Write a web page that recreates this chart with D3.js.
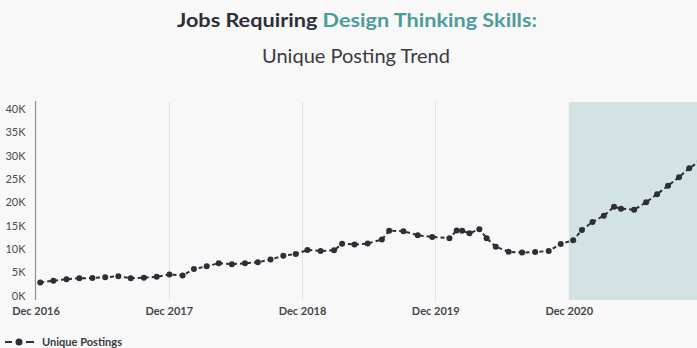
<!DOCTYPE html>
<html>
<head>
<meta charset="utf-8">
<script src="https://cdn.jsdelivr.net/npm/d3@7"></script>
<style>
  html, body { margin: 0; padding: 0; background: #f8f8f8; }
  svg { display: block; }
  text { font-family: Lato, "Open Sans", sans-serif; }
</style>
</head>
<body>
<svg id="chart" width="697" height="348"></svg>
<script>
// Unique job postings requiring design thinking skills
const postingDates = [
  "2016-12-14","2017-01-19","2017-02-24","2017-03-31","2017-05-06","2017-06-10",
  "2017-07-16","2017-08-19","2017-09-24","2017-10-29","2017-12-03","2018-01-08",
  "2018-02-08","2018-03-15","2018-04-17","2018-05-23","2018-06-28","2018-08-02",
  "2018-09-06","2018-10-11","2018-11-14","2018-12-16","2019-01-21","2019-02-27",
  "2019-03-21","2019-04-24","2019-05-30","2019-07-08","2019-07-28","2019-09-05",
  "2019-10-14","2019-11-23","2020-01-09","2020-01-29","2020-02-13","2020-03-04",
  "2020-03-31","2020-04-20","2020-05-15","2020-06-19","2020-07-26","2020-08-31",
  "2020-10-07","2020-11-09","2020-12-13","2021-01-06","2021-02-04","2021-03-07",
  "2021-04-04","2021-04-23","2021-05-29","2021-07-01","2021-07-31","2021-08-30",
  "2021-09-29","2021-10-27","2021-11-25"
];
const uniquePostings = [
  2800, 3180, 3480, 3690, 3750, 3900,
  4140, 3690, 3820, 4010, 4530, 4290,
  5680, 6260, 6930, 6710, 6910, 7120,
  7720, 8520, 8900, 9760, 9550, 9700,
  11090, 10940, 11150, 12010, 13900, 13790,
  12930, 12550, 12290, 13940, 13880, 13340,
  14200, 12290, 10470, 9370, 9220, 9330,
  9550, 11050, 11840, 14050, 15770, 17100,
  19050, 18620, 18400, 19990, 21730, 23530,
  25380, 27310, 28800
];
const yTicks = [0, 5000, 10000, 15000, 20000, 25000, 30000, 35000, 40000];
const xTickDates = ["2016-12-01","2017-12-01","2018-12-01","2019-12-01","2020-12-01"];
const forecastStart = "2020-12-01";
const forecastEnd = "2021-12-01";
const seriesName = "Unique Postings";

const parse = d3.utcParse("%Y-%m-%d");
const points = postingDates.map((d, i) => ({ date: parse(d), value: uniquePostings[i] }));

const svg = d3.select("#chart");
const plotTop = 102, plotBottom = 300;

const x = d3.scaleUtc()
  .domain([parse("2016-12-01"), parse("2021-12-01")])
  .range([35.5, 702]);
const y = d3.scaleLinear().domain([0, 40000]).range([295.5, 109]);

// Title
const title = svg.append("text")
  .attr("x", 357).attr("y", 26.5)
  .attr("text-anchor", "middle")
  .attr("textLength", 360)
  .attr("lengthAdjust", "spacingAndGlyphs")
  .style("font-size", "18.5px").style("font-weight", 700);
title.append("tspan").attr("fill", "#2f2f39").text("Jobs Requiring ");
title.append("tspan").attr("fill", "#4b9c9b").text("Design Thinking Skills:");

svg.append("text")
  .attr("x", 356).attr("y", 63.3)
  .attr("text-anchor", "middle")
  .attr("textLength", 188)
  .attr("lengthAdjust", "spacingAndGlyphs")
  .attr("fill", "#3a3a42")
  .style("font-size", "18.5px")
  .text("Unique Posting Trend");

// Highlighted recent period
svg.append("rect")
  .attr("x", x(parse(forecastStart)))
  .attr("y", plotTop)
  .attr("width", x(parse(forecastEnd)) - x(parse(forecastStart)))
  .attr("height", plotBottom - plotTop)
  .attr("fill", "#d3e2e2");

// Vertical year gridlines
svg.append("g")
  .selectAll("line")
  .data(xTickDates.slice(1, 4).map(parse))
  .join("line")
  .attr("x1", d => Math.round(x(d)) + 0.5)
  .attr("x2", d => Math.round(x(d)) + 0.5)
  .attr("y1", plotTop).attr("y2", plotBottom)
  .attr("stroke", "#e1e1e1").attr("stroke-width", 1);

// Y axis
const yAxis = svg.append("g")
  .attr("transform", "translate(35.5,0)")
  .call(d3.axisLeft(y).tickValues(yTicks).tickSize(0).tickPadding(10)
    .tickFormat(d => (d / 1000) + "K"));
yAxis.select(".domain").remove();
yAxis.selectAll("text")
  .attr("fill", "#4a4a52")
  .style("font-size", "11px")
  .style("font-family", "Lato, sans-serif");
svg.append("line")
  .attr("x1", 35.5).attr("x2", 35.5)
  .attr("y1", plotTop - 1).attr("y2", plotBottom)
  .attr("stroke", "#8e8e8e").attr("stroke-width", 1.2);

// X axis labels
const xAxis = svg.append("g")
  .attr("transform", `translate(0,${plotBottom})`)
  .call(d3.axisBottom(x).tickValues(xTickDates.map(parse)).tickSize(0).tickPadding(7)
    .tickFormat(d3.utcFormat("Dec %Y")));
xAxis.select(".domain").remove();
xAxis.selectAll("text")
  .attr("fill", "#45454d")
  .style("font-size", "11px")
  .style("font-weight", 700)
  .style("font-family", "Lato, sans-serif");

// Series line and markers
const line = d3.line().x(d => x(d.date)).y(d => y(d.value));
svg.append("path")
  .datum(points)
  .attr("d", line)
  .attr("fill", "none")
  .attr("stroke", "#2e2e38")
  .attr("stroke-width", 2)
  .attr("stroke-dasharray", "4,3");
svg.append("g")
  .selectAll("circle")
  .data(points)
  .join("circle")
  .attr("cx", d => x(d.date))
  .attr("cy", d => y(d.value))
  .attr("r", 3)
  .attr("fill", "#2e2e38");

// Legend
const legend = svg.append("g").attr("transform", "translate(5,342)");
legend.selectAll("line.seg")
  .data([[0, 7], [21, 29]])
  .join("line")
  .attr("class", "seg")
  .attr("x1", d => d[0]).attr("x2", d => d[1])
  .attr("y1", 0).attr("y2", 0)
  .attr("stroke", "#2e2e38").attr("stroke-width", 2);
legend.append("circle").attr("cx", 14).attr("cy", 0).attr("r", 3.5).attr("fill", "#2e2e38");
legend.append("text")
  .attr("x", 37).attr("y", 3.6)
  .attr("textLength", 80)
  .attr("lengthAdjust", "spacingAndGlyphs")
  .attr("fill", "#3a3a42")
  .style("font-size", "10.5px").style("font-weight", 700)
  .text(seriesName);
</script>
</body>
</html>
